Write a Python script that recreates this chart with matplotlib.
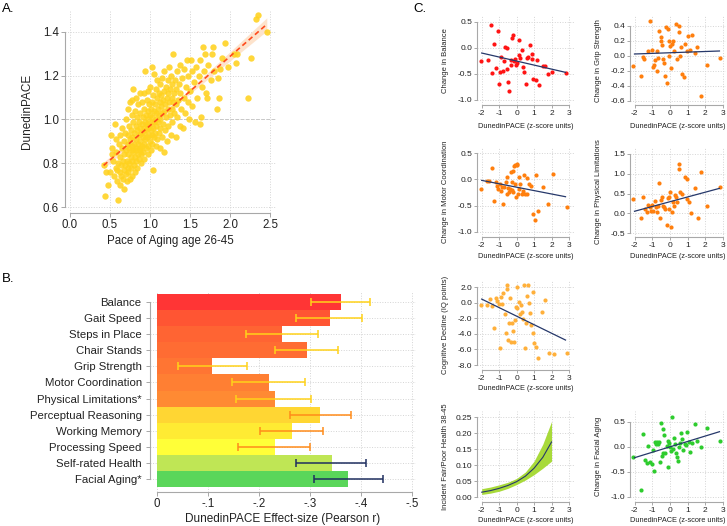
import numpy as np
import matplotlib
matplotlib.use('Agg')
import matplotlib.pyplot as plt

plt.rcParams['font.family'] = ['Liberation Sans', 'DejaVu Sans']
plt.rcParams['axes.unicode_minus'] = False

# ---- panel A: Pace of Aging vs DunedinPACE
pace_points = [
    (0.42, 0.79), (0.44, 0.65), (0.45, 0.76), (0.48, 0.70), (0.50, 0.76), (0.51, 0.93), (0.53, 0.87),
    (0.54, 0.81), (0.55, 0.74), (0.56, 0.98), (0.52, 0.84),
    (0.57, 0.78), (0.58, 0.85), (0.59, 0.72), (0.60, 0.63), (0.60, 0.80), (0.61, 0.89), (0.62, 0.76),
    (0.62, 0.93), (0.63, 0.70), (0.63, 0.83), (0.64, 0.79), (0.64, 0.74), (0.65, 0.87), (0.65, 0.96),
    (0.66, 0.81), (0.66, 0.73), (0.57, 0.91), (0.59, 0.77),
    (0.67, 0.77), (0.67, 0.90), (0.68, 0.84), (0.68, 0.68), (0.69, 0.79), (0.69, 0.94), (0.70, 0.75),
    (0.70, 0.86), (0.70, 1.00), (0.71, 0.81), (0.71, 0.72), (0.72, 0.89), (0.72, 0.78), (0.72, 1.05),
    (0.73, 0.84), (0.73, 0.93), (0.73, 0.76), (0.74, 0.80), (0.74, 0.97), (0.74, 0.87), (0.75, 0.73),
    (0.75, 0.91), (0.75, 1.08),
    (0.76, 0.83), (0.76, 0.78), (0.76, 0.95), (0.77, 0.88), (0.77, 1.02), (0.77, 0.86), (0.78, 0.81),
    (0.78, 0.92), (0.78, 0.74), (0.79, 0.85), (0.79, 1.14), (0.79, 0.99), (0.80, 0.79), (0.80, 0.89),
    (0.80, 0.94), (0.81, 0.83), (0.81, 1.04), (0.81, 0.76), (0.82, 0.87), (0.82, 0.97), (0.82, 1.10),
    (0.83, 0.91), (0.83, 0.81), (0.83, 0.86), (0.84, 0.95), (0.84, 1.01), (0.84, 0.78), (0.85, 0.89),
    (0.85, 0.84), (0.85, 1.07), (0.77, 1.09),
    (0.86, 0.93), (0.86, 0.99), (0.86, 0.82), (0.87, 0.87), (0.87, 1.12), (0.87, 0.86), (0.88, 0.96),
    (0.88, 0.90), (0.88, 1.03), (0.89, 0.84), (0.89, 0.94), (0.89, 0.80), (0.90, 0.98), (0.90, 1.08),
    (0.90, 0.88), (0.91, 0.92), (0.91, 1.01), (0.91, 0.85), (0.92, 0.96), (0.92, 1.12), (0.92, 0.89),
    (0.93, 0.94), (0.93, 1.05), (0.93, 0.82), (0.94, 0.99), (0.94, 0.91), (0.94, 1.22), (0.95, 0.87),
    (0.95, 1.02), (0.95, 0.95),
    (0.96, 1.09), (0.96, 0.92), (0.96, 0.98), (0.97, 1.04), (0.97, 0.88), (0.97, 1.13), (0.98, 0.96),
    (0.98, 1.00), (0.98, 0.84), (0.99, 1.07), (0.99, 0.93), (0.99, 0.97), (1.00, 1.02), (1.00, 0.90),
    (1.00, 1.15), (1.01, 0.95), (1.01, 1.05), (1.01, 0.86), (1.02, 0.99), (1.02, 1.24), (1.02, 0.93),
    (1.03, 1.08), (1.03, 1.01), (1.03, 0.89), (1.04, 0.77), (1.04, 0.96), (1.04, 1.11), (1.05, 1.04),
    (1.05, 0.92), (1.05, 1.21), (1.05, 0.99),
    (1.06, 1.07), (1.06, 0.94), (1.07, 1.00), (1.07, 1.14), (1.07, 0.88), (1.08, 1.03), (1.08, 0.97),
    (1.09, 1.10), (1.09, 0.91), (1.09, 1.18), (1.10, 1.05), (1.10, 0.99), (1.11, 1.12), (1.11, 0.94),
    (1.11, 1.02), (1.12, 1.08), (1.12, 0.87), (1.13, 1.16), (1.13, 1.00), (1.13, 0.96), (1.14, 1.06),
    (1.14, 1.11), (1.15, 0.92), (1.15, 1.03), (1.15, 1.19),
    (1.16, 1.09), (1.16, 0.98), (1.17, 0.85), (1.17, 1.13), (1.18, 1.04), (1.18, 1.22), (1.19, 0.95),
    (1.19, 1.07), (1.20, 1.15), (1.20, 1.01), (1.21, 1.10), (1.21, 0.90), (1.22, 1.05), (1.22, 1.18),
    (1.23, 0.97), (1.23, 1.12), (1.24, 1.08), (1.24, 1.24), (1.25, 1.02), (1.25, 1.14), (1.26, 0.93),
    (1.26, 1.20), (1.27, 1.10), (1.27, 1.05), (1.28, 1.16), (1.28, 0.99), (1.29, 1.30), (1.29, 1.08),
    (1.30, 1.12), (1.30, 1.03),
    (1.31, 1.18), (1.32, 1.07), (1.32, 0.92), (1.33, 1.14), (1.34, 1.22), (1.34, 1.01), (1.35, 1.09),
    (1.36, 1.16), (1.37, 0.97), (1.38, 1.12), (1.38, 1.25), (1.39, 1.05), (1.40, 1.19), (1.41, 0.96),
    (1.42, 1.10), (1.43, 1.23), (1.44, 1.03), (1.45, 1.15), (1.46, 1.27), (1.47, 1.08), (1.48, 1.20),
    (1.49, 1.00), (1.50, 1.13),
    (1.51, 1.27), (1.52, 1.22), (1.53, 1.06), (1.55, 1.17), (1.56, 0.99), (1.58, 1.24), (1.59, 1.10),
    (1.61, 1.20), (1.62, 0.98), (1.62, 1.27), (1.64, 1.01), (1.65, 1.15), (1.66, 1.33), (1.68, 1.22),
    (1.69, 1.30), (1.70, 1.12), (1.71, 1.10), (1.73, 1.25), (1.76, 1.18), (1.78, 1.30), (1.79, 1.33),
    (1.80, 1.22), (1.84, 1.05), (1.85, 1.19), (1.86, 1.10), (1.88, 1.23), (1.90, 1.28), (1.94, 1.35),
    (1.98, 1.24), (2.05, 1.30),
    (2.08, 1.26), (2.09, 1.30), (2.22, 1.10), (2.26, 1.28), (2.33, 1.46), (2.35, 1.476), (2.46, 1.40),
]
fit_a_x = [0.42, 1.44, 2.46]
fit_a_y = [0.79, 1.11, 1.435]
fit_a_lo = [0.775, 1.10, 1.405]
fit_a_hi = [0.805, 1.12, 1.465]

# ---- panel B: effect sizes
measures = ['Balance', 'Gait Speed', 'Steps in Place', 'Chair Stands', 'Grip Strength',
            'Motor Coordination', 'Physical Limitations*', 'Perceptual Reasoning',
            'Working Memory', 'Processing Speed', 'Self-rated Health', 'Facial Aging*']
effect_r = [-0.362, -0.339, -0.246, -0.294, -0.109, -0.220, -0.231, -0.320, -0.266, -0.231, -0.343, -0.375]
ci_low = [-0.303, -0.274, -0.176, -0.231, -0.041, -0.148, -0.156, -0.261, -0.202, -0.159, -0.274, -0.308]
ci_high = [-0.419, -0.403, -0.316, -0.356, -0.177, -0.291, -0.303, -0.380, -0.327, -0.301, -0.411, -0.443]
bar_colors = ['#ff3535', '#ff5533', '#ff6433', '#ff6c33', '#ff7533', '#ff7f33', '#ff8a33',
              '#ffd633', '#ffeb33', '#ffff38', '#bfe655', '#5ad65a']
err_colors = ['#ffd21a'] * 7 + ['#ff8c1a'] * 3 + ['#1f2f5f'] * 2

# ---- panel C: change scatters
bal_x = [-2.06, -1.62, -1.48, -1.41, -1.27, -1.18, -1.08, -0.99, -0.95, -0.89, -0.80, -0.72, -0.66,
         -0.57, -0.53, -0.47, -0.42, -0.34, -0.30, -0.24, -0.19, -0.15, -0.09, -0.03, 0.04, 0.12,
         0.16, 0.21, 0.29, 0.35, 0.42, 0.54, 0.58, 0.67, 0.77, 0.88, 0.96, 1.11, 1.19, 1.30, 1.49,
         1.63, 1.82, 2.05, 2.80, 0.86]
bal_y = [-0.26, -0.23, 0.44, -0.49, 0.07, -0.39, 0.33, -0.70, -0.46, -0.17, -0.44, -0.26, 0.02,
         -0.01, -0.41, -0.65, -0.82, -0.23, -0.32, 0.19, 0.25, -0.26, -0.22, -0.32, -0.30, -0.14,
         0.15, -0.19, -0.04, -0.36, -0.46, -0.69, -0.20, -0.17, 0.05, -0.12, -0.60, -0.61, -0.23,
         -0.72, -0.34, -0.35, -0.51, -0.46, -0.49, -0.22]
bal_fit = ([-2.0, 2.8], [-0.10, -0.47])

grip_x = [-2.07, -1.65, -1.50, -1.46, -1.22, -1.10, -1.01, -0.94, -0.90, -0.84, -0.75, -0.71, -0.65,
          -0.60, -0.52, -0.48, -0.44, -0.41, -0.35, -0.30, -0.22, -0.15, -0.13, -0.07, -0.03, 0.02,
          0.08, 0.14, 0.19, 0.23, 0.35, 0.42, 0.50, 0.53, 0.57, 0.62, 0.66, 0.77, 0.85, 0.97, 1.04,
          1.13, 1.25, 1.42, 1.55, 1.76, 2.08, 2.83]
grip_y = [-0.14, -0.27, -0.02, -0.04, 0.06, 0.46, 0.08, -0.15, -0.12, -0.06, 0.06, -0.21, -0.03,
          0.33, 0.25, 0.19, 0.14, -0.04, -0.10, -0.27, 0.38, -0.36, 0.36, 0.00, 0.19, 0.13, -0.16,
          0.15, 0.20, 0.06, 0.42, -0.05, 0.31, 0.39, 0.00, 0.12, -0.25, -0.28, 0.15, 0.06, 0.26,
          0.07, 0.28, 0.03, 0.11, -0.54, -0.12, -0.03]
grip_fit = ([-2.0, 2.8], [0.02, 0.06])

motor_x = [-2.06, -1.71, -1.56, -1.41, -1.29, -1.20, -1.14, -1.05, -0.95, -0.89, -0.85, -0.78, -0.70,
           -0.63, -0.57, -0.53, -0.47, -0.42, -0.38, -0.34, -0.28, -0.24, -0.23, -0.19, -0.15, -0.11,
           -0.07, -0.03, 0.00, 0.04, 0.06, 0.14, 0.16, 0.19, 0.29, 0.39, 0.44, 0.50, 0.58, 0.61, 0.73,
           0.82, 0.96, 1.05, 1.11, 1.25, 1.50, 1.82, 2.10, 2.90]
motor_y = [-0.18, -0.04, -0.04, 0.21, -0.42, -0.06, -0.12, -0.18, -0.09, -0.22, -0.14, -0.47, -0.14,
           -0.06, -0.28, 0.04, -0.17, -0.25, -0.18, 0.13, -0.20, -0.06, -0.25, 0.15, 0.25, -0.09,
           0.28, -0.33, 0.30, 0.27, -0.28, 0.04, -0.18, -0.09, -0.27, -0.23, 0.08, -0.28, -0.28, 0.03,
           -0.08, -0.12, -0.66, -0.77, 0.09, -0.60, -0.15, -0.46, 0.10, -0.53]
motor_fit = ([-2.0, 2.8], [-0.02, -0.33])

phys_x = [-2.07, -1.65, -1.50, -1.41, -1.31, -1.22, -1.12, -1.06, -1.01, -0.94, -0.84, -0.80, -0.75,
          -0.69, -0.60, -0.56, -0.50, -0.44, -0.41, -0.33, -0.28, -0.18, -0.13, -0.07, -0.03, 0.02,
          0.08, 0.12, 0.19, 0.25, 0.31, 0.35, 0.42, 0.50, 0.53, 0.57, 0.68, 0.85, 0.94, 0.98, 1.10,
          1.19, 1.42, 1.57, 1.76, 2.08, 2.83]
phys_y = [0.35, -0.13, 0.42, 0.12, 0.04, 0.22, 0.17, 0.06, 0.22, 0.06, 0.31, 0.17, 0.04,
          0.19, 0.76, -0.11, 0.33, 0.42, 0.18, 0.17, 0.12, -0.30, 0.38, 0.11, 0.40, 0.55,
          -0.36, 0.04, 0.29, 0.18, 0.46, 0.40, 0.28, 1.11, 1.24, 0.55, 0.48, 0.93, 0.37, 0.86, 0.28,
          0.00, 0.63, -0.13, 1.05, 0.18, 0.67]
phys_fit = ([-2.0, 2.8], [0.05, 0.63])

cog_x = [-2.06, -1.68, -1.52, -1.41, -1.29, -1.20, -1.10, -1.01, -0.95, -0.89, -0.82, -0.76, -0.68,
         -0.63, -0.57, -0.53, -0.47, -0.44, -0.38, -0.34, -0.28, -0.19, -0.13, -0.09, -0.03, 0.00,
         0.04, 0.12, 0.19, 0.23, 0.29, 0.35, 0.40, 0.48, 0.54, 0.58, 0.63, 0.71, 0.77, 0.82, 0.95,
         0.96, 1.02, 1.11, 1.25, 1.44, 1.62, 1.87, 2.14, 2.86]
cog_y = [-0.31, -0.31, 0.46, -0.44, -3.30, 0.55, 0.21, -0.18, -5.86, 0.68, -0.18, 1.27, -1.50,
         -3.85, 1.70, 2.26, -4.79, -2.66, 0.55, -5.00, -2.66, -3.60, -5.00, -2.23, -0.61, -0.74,
         1.96, 0.12, -1.50, -0.31, -1.25, -2.15, 2.26, -5.86, -2.66, 0.85, 2.26, -0.01, -1.29, -2.87,
         1.40, -3.94, -5.14, -5.65, -7.15, -1.25, 0.33, -6.50, -6.60, -6.40]
cog_fit = ([-2.0, 2.8], [0.45, -4.80])

health_x = [-2.0, -1.5, -1.0, -0.5, 0.0, 0.5, 1.0, 1.5, 2.0]
health_y = [0.015, 0.020, 0.027, 0.036, 0.048, 0.065, 0.090, 0.124, 0.172]
health_lo = [0.008, 0.012, 0.018, 0.027, 0.039, 0.053, 0.070, 0.090, 0.112]
health_hi = [0.026, 0.031, 0.038, 0.046, 0.058, 0.078, 0.112, 0.165, 0.236]

face_x = [-2.07, -1.65, -1.50, -1.41, -1.31, -1.22, -1.12, -1.01, -0.97, -0.90, -0.84, -0.78, -0.75,
          -0.69, -0.63, -0.56, -0.50, -0.46, -0.41, -0.38, -0.33, -0.25, -0.18, -0.13, -0.10, -0.03,
          0.02, 0.06, 0.12, 0.17, 0.25, 0.31, 0.35, 0.40, 0.44, 0.50, 0.57, 0.63, 0.68, 0.76, 0.85,
          0.91, 0.99, 1.06, 1.14, 1.23, 1.42, 1.55, 1.76, 2.08, 2.83]
face_y = [-0.20, -0.87, 0.25, -0.27, -0.33, 0.01, -0.30, -0.35, -0.07, -0.48, 0.10, 0.05, 0.09,
          0.05, 0.10, -0.31, 0.48, -0.18, 0.35, -0.13, 0.23, -0.13, 0.01, 0.11, -0.40, 0.07,
          -0.01, -0.09, 0.60, -0.05, 0.17, 0.05, -0.13, -0.20, -0.29, -0.01, 0.08, 0.27, 0.15, -0.07,
          0.05, 0.03, 0.30, 0.10, -0.10, 0.08, 0.45, 0.12, 0.00, 0.37, 0.12]
face_fit = ([-2.0, 2.8], [-0.22, 0.30])

W, H = 727, 526
fig = plt.figure(figsize=(W / 100, H / 100), dpi=100)
GRIDC = '#d4d4d4'
SPINEC = '#a8a8a8'
NAVY = '#26386a'


def px_axes(l, t, r, b):
    return fig.add_axes([l / W, 1 - b / H, (r - l) / W, (b - t) / H])


def lims(p1, v1, p2, v2, e1, e2):
    k = (v2 - v1) / (p2 - p1)
    return v1 + (e1 - p1) * k, v1 + (e2 - p1) * k


def style(ax, fs, tl=2.5):
    for s in ['top', 'right']:
        ax.spines[s].set_visible(False)
    for s in ['left', 'bottom']:
        ax.spines[s].set_color(SPINEC)
        ax.spines[s].set_linewidth(0.8)
    ax.tick_params(colors=SPINEC, labelcolor='#222222', labelsize=fs, length=tl, width=0.7, pad=1.5)
    ax.grid(True, ls=':', color=GRIDC, lw=0.7)
    ax.set_axisbelow(True)


def tick_bounds(ax):
    xt, yt = ax.get_xticks(), ax.get_yticks()
    ax.spines['bottom'].set_bounds(min(xt), max(xt))
    ax.spines['left'].set_bounds(min(yt), max(yt))


# ---------------- panel A
box = (65, 10, 276, 213)
axA = px_axes(*box)
axA.set_xlim(*lims(70, 0.0, 270, 2.5, box[0], box[2]))
axA.set_ylim(*lims(207, 0.6, 32, 1.4, box[3], box[1]))
style(axA, 8.3, 3)
px = [p[0] for p in pace_points]
py = [p[1] for p in pace_points]
axA.fill_between(fit_a_x, fit_a_lo, fit_a_hi, color='#fde3cc', lw=0, zorder=2)
axA.scatter(px, py, s=21, color='#ffd21f', alpha=0.88, lw=0, zorder=3)
axA.plot(fit_a_x, fit_a_y, ls=(0, (3, 2)), color='#ff4a1c', lw=1.2, zorder=4)
axA.axhline(1.0, ls='--', color='#c8c8c8', lw=0.7, zorder=1)
axA.set_xticks([0, 0.5, 1.0, 1.5, 2.0, 2.5])
axA.set_yticks([0.6, 0.8, 1.0, 1.2, 1.4])
axA.set_xticklabels(['%.1f' % v for v in axA.get_xticks()])
axA.set_yticklabels(['%.1f' % v for v in axA.get_yticks()])
tick_bounds(axA)
axA.set_xlabel('Pace of Aging age 26-45', fontsize=8.3, color='#222222')
axA.xaxis.set_label_coords(0.5, -(235 - 213) / 203)
axA.set_ylabel('DunedinPACE', fontsize=8.5, color='#222222')
axA.yaxis.set_label_coords(-(65 - 33) / 211, 0.5)

# ---------------- panel B
box = (150, 291, 416, 492)
axB = px_axes(*box)
axB.set_xlim(*lims(156.7, 0.0, 411.7, -0.5, box[0], box[2]))
axB.set_ylim(*lims(479, 0, 302, 11, box[3], box[1]))
style(axB, 8.2, 3)
ypos = np.arange(len(measures))[::-1]
axB.barh(ypos, effect_r, height=1.0, color=bar_colors, lw=0, zorder=2)
for yy, lo, hi, c in zip(ypos, ci_low, ci_high, err_colors):
    axB.errorbar([(lo + hi) / 2], [yy], xerr=[[(lo - hi) / 2]], fmt='none', ecolor=c,
                 elinewidth=1.1, capsize=2.6, capthick=1.1, zorder=3)
axB.set_yticks(ypos)
axB.set_yticklabels(measures)
axB.set_xticks([0, -0.1, -0.2, -0.3, -0.4, -0.5])
axB.set_xticklabels(['0', '-.1', '-.2', '-.3', '-.4', '-.5'])
tick_bounds(axB)
axB.tick_params(axis='y', pad=3)
axB.tick_params(axis='x', labelsize=8.3)
axB.set_xlabel('DunedinPACE Effect-size (Pearson r)', fontsize=8.5, color='#222222')
axB.xaxis.set_label_coords(0.5, -(513 - 492) / 201)

# ---------------- panel C
COL1 = (477, 574, (481.7, -2, 569, 3))
COL2 = (630, 726, (634.5, -2, 723, 3))
ROWS = [(16, 105, 126), (147, 237, 257), (280, 370, 389), (411, 502, 520)]


def panel_c(col, row, yref, yticks, fmt, ylabel):
    l, r, xref = col
    t, b, xl = ROWS[row]
    ax = px_axes(l, t, r, b)
    ax.set_xlim(*lims(xref[0], xref[1], xref[2], xref[3], l, r))
    ax.set_ylim(*lims(yref[0], yref[1], yref[2], yref[3], b, t))
    style(ax, 6.0, 2)
    ax.set_xticks([-2, -1, 0, 1, 2, 3])
    ax.set_xticklabels(['-2', '-1', '0', '1', '2', '3'])
    ax.set_yticks(yticks)
    ax.set_yticklabels([fmt % v for v in yticks])
    tick_bounds(ax)
    ax.set_xlabel('DunedinPACE (z-score units)', fontsize=5.3, color='#222222')
    ax.xaxis.set_label_coords(0.5, -(xl - 3.5 - b) / (b - t))
    ax.set_ylabel(ylabel, fontsize=5.5, color='#222222')
    ax.yaxis.set_label_coords(-28.0 / (r - l), 0.5)
    return ax


ax = panel_c(COL1, 0, (100, -1.0, 21.7, 0.5), [-1.0, -0.5, 0.0, 0.5], '%.1f', 'Change in Balance')
ax.scatter(bal_x, bal_y, s=9, color='#ff1414', lw=0, zorder=3)
ax.plot(*bal_fit, color=NAVY, lw=0.9, zorder=4)

ax = panel_c(COL2, 0, (100.5, -0.6, 25.5, 0.4), [-0.6, -0.4, -0.2, 0.0, 0.2, 0.4], '%.1f',
             'Change in Grip Strength')
ax.scatter(grip_x, grip_y, s=9, color='#ff7f0e', lw=0, zorder=3)
ax.plot(*grip_fit, color=NAVY, lw=0.9, zorder=4)

ax = panel_c(COL1, 1, (232, -1.0, 153, 0.5), [-1.0, -0.5, 0.0, 0.5], '%.1f', 'Change in Motor Coordination')
ax.scatter(motor_x, motor_y, s=9, color='#ff7f0e', lw=0, zorder=3)
ax.plot(*motor_fit, color=NAVY, lw=0.9, zorder=4)

ax = panel_c(COL2, 1, (233, -0.5, 154, 1.5), [-0.5, 0.0, 0.5, 1.0, 1.5], '%.1f',
             'Change in Physical Limitations')
ax.scatter(phys_x, phys_y, s=9, color='#ff7f0e', lw=0, zorder=3)
ax.plot(*phys_fit, color=NAVY, lw=0.9, zorder=4)

ax = panel_c(COL1, 2, (365, -8.0, 287, 2.0), [-8.0, -6.0, -4.0, -2.0, 0.0, 2.0], '%.1f',
             'Cognitive Decline (IQ points)')
ax.scatter(cog_x, cog_y, s=9, color='#ffb03b', lw=0, zorder=3)
ax.plot(*cog_fit, color=NAVY, lw=0.9, zorder=4)

ax = panel_c(COL1, 3, (497, 0.0, 417, 0.25), [0.0, 0.05, 0.10, 0.15, 0.20, 0.25], '%.2f',
             'Incident Fair/Poor Health 38-45')
ax.fill_between(health_x, health_lo, health_hi, color='#a8da3a', lw=0, zorder=2)
ax.plot(health_x, health_y, color=NAVY, lw=0.8, zorder=3)

ax = panel_c(COL2, 3, (496.7, -1.0, 421.7, 0.5), [-1.0, -0.5, 0.0, 0.5], '%.1f', 'Change in Facial Aging')
ax.scatter(face_x, face_y, s=9, color='#2ecc2e', lw=0, zorder=3)
ax.plot(*face_fit, color=NAVY, lw=0.9, zorder=4)

# panel letters
fig.text(2 / W, 1 - 3 / H, 'A.', fontsize=9.5, va='top', ha='left')
fig.text(2 / W, 1 - 273 / H, 'B.', fontsize=9.5, va='top', ha='left')
fig.text(413 / W, 1 - 3 / H, 'C.', fontsize=9.5, va='top', ha='left')

fig.savefig('out.png', dpi=100)
